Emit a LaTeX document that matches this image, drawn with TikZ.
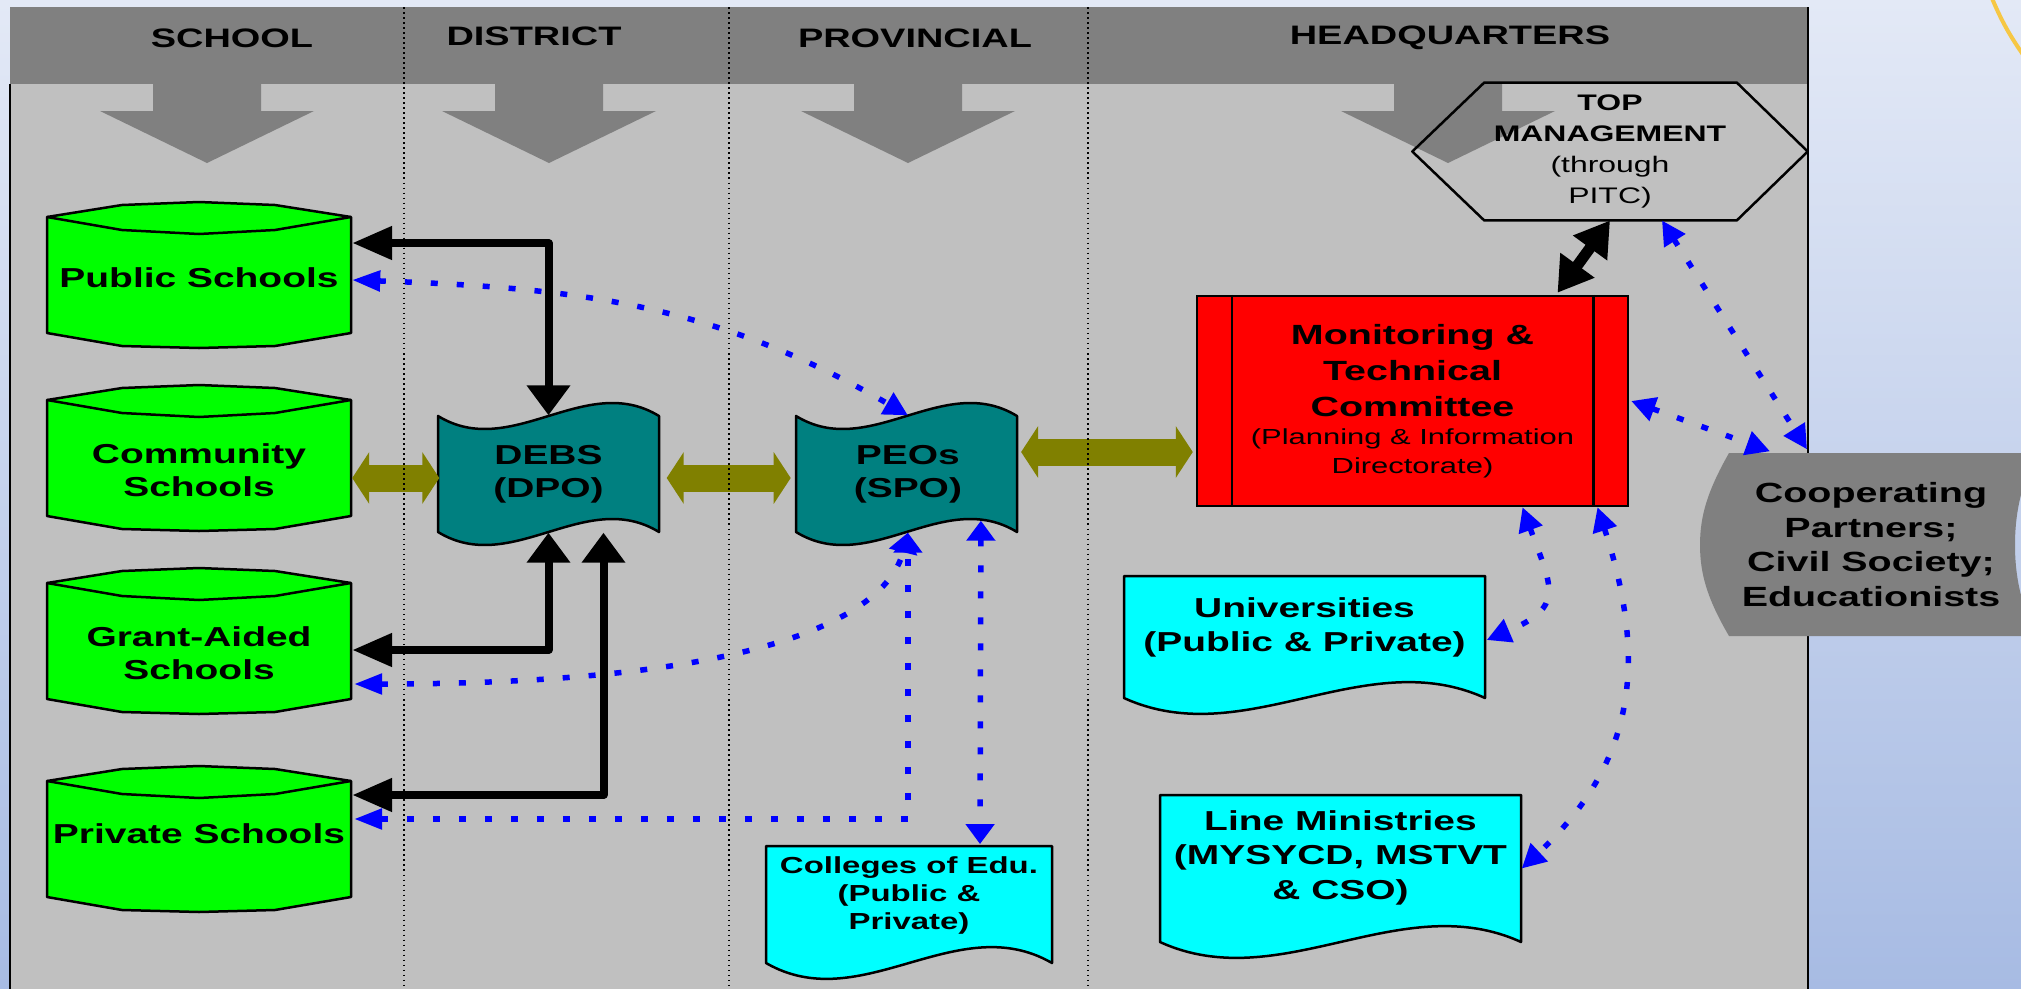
\documentclass[tikz,border=0pt]{standalone}
\usepackage{fontspec}
\setmainfont{Liberation Sans}[FakeStretch=1.42]
\usetikzlibrary{arrows.meta, positioning, calc}

\definecolor{panelgrey}{HTML}{C0C0C0}
\definecolor{bandgrey}{HTML}{808080}
\definecolor{schoolgreen}{HTML}{00FF00}
\definecolor{officeteal}{HTML}{008080}
\definecolor{hqred}{HTML}{FF0000}
\definecolor{instcyan}{HTML}{00FFFF}
\definecolor{linkolive}{HTML}{808000}
\definecolor{linkblue}{HTML}{0000FF}
\definecolor{skytop}{HTML}{E3E9F6}
\definecolor{skybottom}{HTML}{A7BBE3}
\definecolor{swoosh}{HTML}{F6C744}

\tikzset{
    hk/.tip={Triangle[length=4mm,width=3.2mm]},
    vk/.tip={Triangle[length=3mm,width=4.2mm]},
    dk/.tip={Triangle[length=3.4mm,width=4mm]},
    ol/.tip={Triangle[length=1.7mm,width=5.1mm]},
    hb/.tip={Triangle[length=2.8mm,width=2mm]},
    vb/.tip={Triangle[length=2mm,width=2.8mm]},
    db/.tip={Triangle[length=2.4mm,width=2.4mm]}
}

% school can drawn round a centre given in px
\newcommand{\schoolcan}[1]{%
    \begin{scope}[shift={#1}]
        \filldraw[canline] (-152,-58) -- (-77,-70) -- (0,-73) -- (76,-70) -- (152,-58)
            -- (152,58) -- (76,71) -- (0,73) -- (-77,71) -- (-152,58) -- cycle;
        \draw[canline] (-152,-58) -- (-77,-45) -- (0,-41) -- (76,-45) -- (152,-58);
    \end{scope}}

% punched tape round a centre
\newcommand{\officetape}[1]{%
    \begin{scope}[shift={#1}]
        \filldraw[tapeline] (-110.5,-58) .. controls (-37,-13) and (37,-103) .. (110.5,-58)
            -- (110.5,58) .. controls (37,13) and (-37,103) .. (-110.5,58) -- cycle;
    \end{scope}}

% sheet with wavy foot: top left corner, width, height
\newcommand{\papersheet}[3]{%
    \begin{scope}[shift={#1}]
        \filldraw[paperline] (0,0) -- (#2,0) -- (#2,#3)
            .. controls ({#2*2/3},{#3-55}) and ({#2/3},{#3+55}) .. (0,#3) -- cycle;
    \end{scope}}

% smaller second-line text, and extra depth to lift a label
\newcommand{\smalltxt}[1]{{\fontsize{6.2}{8}\selectfont #1}}
\newcommand{\lift}[1]{\rule[-#1]{0pt}{0pt}}

\begin{document}
\begin{tikzpicture}[
        x=0.1mm, y=-0.1mm,
        band/.style={font=\bfseries\fontsize{7.6}{9}\selectfont},
        can/.style={
            align=center,
            minimum width=30.5mm,
            inner sep=0pt,
            font=\bfseries\fontsize{7.8}{9.4}\selectfont
        },
        canline/.style={draw=black, fill=schoolgreen, line width=0.25mm, line join=round},
        tapeline/.style={draw=black, fill=officeteal, line width=0.25mm, line join=round},
        paperline/.style={draw=black, fill=instcyan, line width=0.25mm, line join=round},
        office/.style={
            minimum width=22.1mm,
            minimum height=11.6mm,
            align=center,
            font=\bfseries\fontsize{7.8}{9.4}\selectfont
        },
        paper/.style={
            align=center,
            font=\bfseries\fontsize{7.8}{9.8}\selectfont
        },
        mtcbox/.style={
            rectangle,
            draw=black,
            fill=hqred,
            line width=0.25mm,
            minimum width=43.1mm,
            minimum height=21mm,
            align=center,
            font=\fontsize{7.9}{10.2}\selectfont
        },
        hexbox/.style={
            minimum width=39.4mm,
            minimum height=13.1mm,
            align=center,
            font=\fontsize{6.4}{8.8}\selectfont
        },
        coopbox/.style={
            minimum width=30mm,
            minimum height=18.3mm,
            align=center,
            font=\bfseries\fontsize{7.9}{9.9}\selectfont
        },
        blk/.style={line width=0.8mm, line join=round},
        olv/.style={draw=linkolive, line width=2.7mm},
        dots/.style={draw=linkblue, line width=0.55mm, dash pattern=on 0.7mm off 1.9mm},
        colsep/.style={densely dotted, line width=0.15mm}
    ]

    \useasboundingbox (0,0) rectangle (2021,989);

    % backdrop
    \shade[top color=skytop, bottom color=skybottom] (0,0) rectangle (2021,989);
    \draw[swoosh, line width=0.4mm] (1991,-4) to[bend right=6] (2024,56);

    % panel, header band and level arrows
    \fill[panelgrey] (10,7) rectangle (1808,989);
    \fill[bandgrey] (10,7) rectangle (1808,84);
    \foreach \ax in {207,549,908,1448}
        \fill[bandgrey] (\ax-54,80) -- (\ax-54,111) -- (\ax-107,111) -- (\ax,163)
            -- (\ax+107,111) -- (\ax+54,111) -- (\ax+54,80) -- cycle;
    \draw[line width=0.25mm] (10,84) -- (10,989);
    \draw[line width=0.25mm] (1808,7) -- (1808,989);

    % level titles
    \node[band] (hschool) at (232,38) {SCHOOL};
    \node[band] (hdistrict) at (534,36) {DISTRICT};
    \node[band] (hprov) at (915,38) {PROVINCIAL};
    \node[band] (hhq) at (1450,38) {HEADQUARTERS};

    % schools
    \schoolcan{(199,275)}
    \schoolcan{(199,458)}
    \schoolcan{(199,641)}
    \schoolcan{(199,839)}
    \node[can] (pub) at (199,278) {Public Schools};
    \node[can] (com) at (199,470) {Community\\Schools};
    \node[can] (gra) at (199,653) {Grant-Aided\\Schools};
    \node[can] (pri) at (199,834) {Private Schools};

    % district and province offices
    \officetape{(548.5,474)}
    \officetape{(906.5,474)}
    \node[office] (debs) at (548.5,474) {DEBS\\(DPO)};
    \node[office, right=13.7mm of debs] (peo) {PEOs\\(SPO)};

    % headquarters
    \node[mtcbox] (mtc) at (1412.5,401) {\textbf{Monitoring \&}\\\textbf{Technical}\\\textbf{Committee}\\[-2.2pt]\smalltxt{(Planning \& Information}\\[-2pt]\smalltxt{Directorate)}};
    \draw[line width=0.25mm] ($(mtc.north west)+(36,0)$) -- ($(mtc.south west)+(36,0)$);
    \draw[line width=0.25mm] ($(mtc.north east)+(-36,0)$) -- ($(mtc.south east)+(-36,0)$);

    \node[hexbox] (top) at (1610,151.5) {\textbf{TOP}\\\textbf{MANAGEMENT}\\(through\\PITC)};
    \draw[line width=0.25mm, line join=round] (top.west) -- ($(top.north west)+(72,0)$) -- ($(top.north east)+(-71,0)$)
        -- (top.east) -- ($(top.south east)+(-71,0)$) -- ($(top.south west)+(72,0)$) -- cycle;

    % colleges, universities, ministries
    \papersheet{(766,846)}{286}{117}
    \papersheet{(1124,576)}{361}{122}
    \papersheet{(1160,795)}{361}{147}
    \node[paper, minimum width=28.6mm, minimum height=11.7mm, font=\bfseries\fontsize{6.6}{8}\selectfont] (col) at (909,904.5) {Colleges of Edu.\\(Public \&\\Private)\lift{2.3mm}};
    \node[paper, minimum width=36.1mm, minimum height=12.2mm] (uni) at (1304.5,637) {Universities\\(Public \& Private)\lift{2.5mm}};
    \node[paper, minimum width=36.1mm, minimum height=14.7mm] (lm) at (1340.5,868.5) {Line Ministries\\(MYSYCD, MSTVT\\\& CSO)\lift{2.7mm}};

    % partners
    \fill[bandgrey] (1729,453) .. controls (1708,490) and (1700,515) .. (1700,545)
        .. controls (1700,575) and (1708,600) .. (1729,636) -- (2035,636)
        .. controls (2020,600) and (2015,575) .. (2015,545)
        .. controls (2015,515) and (2020,490) .. (2035,453) -- cycle;
    \node[coopbox] (coop) at (1871,544.5) {Cooperating\\Partners;\\Civil Society;\\Educationists};

    % black links
    \draw[blk, {hk}-{vk}] ($(pub.east)+(0,-35)$) -| (debs.north);
    \draw[blk, {hk}-{vk}] ($(gra.east)+(0,-3)$) -| (debs.south);
    \draw[blk, {hk}-{vk}] ($(pri.east)+(0,-39)$) -| ($(debs.south)+(55,0)$);
    \draw[blk, line width=1.1mm, {dk}-{dk}] ($(mtc.north)+(145,-2)$) -- (top.south);

    % olive links
    \draw[olv, {ol}-{ol}] ($(com.east)+(0,8)$) -- ($(debs.west)+(2,4)$);
    \draw[olv, {ol}-{ol}] ($(debs.east)+(7,4)$) -- ($(peo.west)+(-6,4)$);
    \draw[olv, {ol}-{ol}] ($(peo.east)+(2,-22)$) -- ($(mtc.west)+(-3,51)$);

    % blue dotted links
    \draw[dots, {hb}-{db}] ($(pub.east)+(0,2)$) to[out=-2, in=150] (peo.north);
    \draw[dots, {hb}-{vb}] ($(gra.east)+(2,31)$) .. controls +(420,0) and +(-20,80) .. (peo.south);
    \draw[dots, {hb}-{vb}] ($(pri.east)+(2,-15)$) -| (peo.south);
    \draw[dots, {vb}-{vb}] ($(peo.south)+(73,-12)$) -- ($(col.north)+(71,0)$);
    \draw[dots, {db}-{db}] ($(mtc.south)+(110,0)$) to[out=-70, in=23, looseness=1.6] ($(uni.east)+(1,3)$);
    \draw[dots, {db}-{db}] ($(mtc.south)+(185,0)$) to[out=-72, in=43, looseness=1.1] (lm.east);
    \draw[dots, {db}-{db}] ($(mtc.east)+(2,0)$) -- ($(coop.north)+(-101,-1)$);
    \draw[dots, {db}-{db}] ($(top.south)+(52,0)$) -- ($(coop.north)+(-64,-3)$);

    % column separators
    \foreach \sx in {404,729,1088}
        \draw[colsep] (\sx,7) -- (\sx,989);

\end{tikzpicture}
\end{document}
